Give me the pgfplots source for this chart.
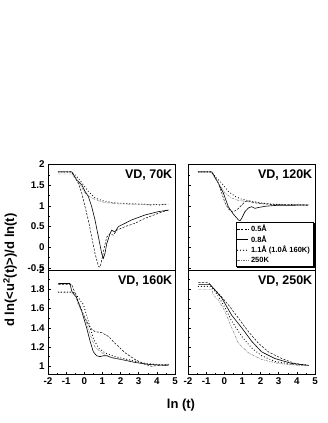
\documentclass[border=0pt]{standalone}
\usepackage{fontspec}
\setmainfont{Liberation Sans}
\usepackage{pgfplots}
\pgfplotsset{compat=1.18}

\pgfplotsset{
  panel/.style={
    scale only axis, width=127pt,
    xmin=-2, xmax=5, xtick={-2,...,5}, minor x tick num=1,
    tick align=inside, xtick pos=bottom, ytick pos=left,
    axis line style={line width=0.8pt},
    tick style={black, line width=0.5pt},
    major tick length=3pt, minor tick length=1.8pt,
    ticklabel style={font=\bfseries\fontsize{9.8}{10}\selectfont},
    /pgf/number format/assume math mode=true,
    legend image code/.code={\draw[##1] (0pt,0pt) -- (11pt,0pt);},
  },
  toprow/.style={panel, height=105.5pt, ymin=-0.55, ymax=2,
    ytick={-0.5,0,0.5,1,1.5,2}, minor y tick num=1, xtick=\empty},
  botrow/.style={panel, height=104.5pt, ymin=0.915, ymax=2,
    ytick={1,1.2,1.4,1.6,1.8,2}, minor y tick num=1},
  d05/.style={black, line width=0.5pt, dash pattern=on 2.2pt off 1.4pt},
  d08/.style={black, line width=0.6pt},
  d11/.style={black, line width=1.2pt, line cap=round, dash pattern=on 0pt off 3pt},
  d250/.style={black!55, line width=0.45pt, dash pattern=on 2.5pt off 1pt on 0.6pt off 1pt},
}
\newcommand{\paneltitle}[1]{\node[anchor=north east, inner sep=0pt,
  font=\bfseries\fontsize{12.5}{14}\selectfont] at (rel axis cs:0.98,0.95) {#1};}

\begin{document}
\begin{tikzpicture}
\useasboundingbox (0pt,0pt) rectangle (327pt,423pt);

% ---- 70K
\begin{axis}[toprow, at={(48pt,153pt)}, anchor=south west]
\addplot[d05] coordinates {(-1.43,1.82)(-0.69,1.82)(-0.33,1.55)(-0.14,1.31)(0.04,0.98)(0.22,0.66)(0.41,0.25)(0.59,-0.15)(0.78,-0.46)(0.87,-0.48)(0.96,-0.32)(1.11,0.01)(1.24,0.25)(1.42,0.33)(1.60,0.29)(1.79,0.41)(2.25,0.50)(2.80,0.58)(3.35,0.70)(4.08,0.82)(4.64,0.90)};
\addplot[d08] coordinates {(-1.43,1.82)(-0.69,1.82)(-0.42,1.63)(-0.14,1.51)(0.04,1.35)(0.22,1.23)(0.41,0.98)(0.59,0.66)(0.78,0.25)(0.96,-0.15)(1.05,-0.27)(1.14,-0.15)(1.24,0.09)(1.42,0.33)(1.51,0.41)(1.69,0.37)(1.88,0.50)(2.25,0.58)(2.61,0.66)(3.35,0.78)(4.08,0.86)(4.64,0.90)};
\addplot[d11] coordinates {(-1.43,1.82)(-0.69,1.82)(-0.33,1.67)(-0.05,1.51)(0.22,1.35)(0.59,1.19)(0.96,1.13)(1.51,1.08)(2.43,1.05)(3.35,1.04)(3.70,1.02)(3.90,1.04)(4.20,1.02)(4.40,1.04)(4.64,1.03)};
\addplot[d250] coordinates {(-1.43,1.77)(-0.69,1.77)(-0.33,1.59)(0.04,1.31)(0.41,1.19)(0.78,1.12)(1.14,1.08)(1.88,1.05)(2.80,1.04)(4.64,1.03)};
\paneltitle{VD, 70K}
\end{axis}

% ---- 120K
\begin{axis}[toprow, at={(188pt,153pt)}, anchor=south west, yticklabels={},
  legend style={name=lgd, at={(0.985,0.03)}, anchor=south east, draw=black, line width=0.5pt,
    font=\bfseries\fontsize{7.5}{8}\selectfont, inner sep=1pt, row sep=-1.5pt,
    fill=white},
  legend cell align=left]
\addplot[d05] coordinates {(-1.43,1.82)(-0.69,1.82)(-0.33,1.55)(-0.14,1.31)(0.04,1.07)(0.22,0.93)(0.45,0.85)(0.68,0.90)(0.96,1.02)(1.14,1.10)(1.33,1.12)(1.60,1.08)(2.06,1.05)(2.80,1.03)(4.64,1.02)};
\addlegendentry{0.5Å}
\addplot[d08] coordinates {(-1.43,1.82)(-0.69,1.82)(-0.33,1.55)(-0.05,1.31)(0.22,0.98)(0.50,0.80)(0.78,0.66)(0.87,0.64)(0.96,0.70)(1.14,0.86)(1.33,0.95)(1.51,0.98)(1.69,0.94)(1.88,0.96)(2.25,0.99)(2.80,1.01)(4.64,1.02)};
\addlegendentry{0.8Å}
\addplot[d11] coordinates {(-1.43,1.82)(-0.69,1.82)(-0.42,1.67)(-0.14,1.55)(0.22,1.35)(0.59,1.23)(0.96,1.16)(1.51,1.11)(2.06,1.07)(2.61,1.04)(3.50,1.03)(4.64,1.02)};
\addlegendentry{1.1Å (1.0Å 160K)}
\addplot[d250] coordinates {(-1.43,1.80)(-0.69,1.80)(-0.33,1.55)(0.04,1.31)(0.41,1.19)(0.78,1.13)(1.14,1.11)(1.88,1.07)(2.80,1.04)(4.64,1.03)};
\addlegendentry{250K}
\paneltitle{VD, 120K}
\end{axis}
% shadow edge of the legend box
\draw[line width=1.4pt] ([xshift=0.95pt,yshift=-1.5pt]lgd.north east) -- ([xshift=0.95pt,yshift=-0.95pt]lgd.south east) -- ([xshift=1.5pt,yshift=-0.95pt]lgd.south west);

% ---- 160K
\begin{axis}[botrow, at={(48pt,48.5pt)}, anchor=south west]
\addplot[d05] coordinates {(-1.43,1.85)(-0.69,1.85)(-0.33,1.67)(0.04,1.50)(0.32,1.40)(0.59,1.36)(0.96,1.35)(1.33,1.31)(1.69,1.24)(2.25,1.14)(2.80,1.07)(3.35,1.02)(3.72,1.00)(4.08,1.01)(4.45,1.02)(4.64,1.02)};
\addplot[d08] coordinates {(-1.43,1.86)(-0.79,1.86)(-0.69,1.78)(-0.42,1.71)(-0.14,1.57)(0.13,1.40)(0.32,1.26)(0.50,1.15)(0.68,1.11)(0.87,1.10)(1.05,1.11)(1.24,1.11)(1.51,1.09)(2.06,1.07)(2.80,1.04)(3.53,1.02)(4.45,1.01)(4.64,1.01)};
\addplot[d11] coordinates {(-1.43,1.77)(-0.69,1.77)(-0.51,1.76)(-0.05,1.64)(0.22,1.47)(0.50,1.29)(0.78,1.19)(1.14,1.14)(1.69,1.10)(2.43,1.07)(3.35,1.03)(4.45,1.01)(4.64,1.02)};
\addplot[d250] coordinates {(-1.43,1.77)(-0.79,1.77)(-0.51,1.74)(-0.33,1.64)(0.04,1.50)(0.32,1.33)(0.59,1.20)(0.96,1.14)(1.51,1.09)(2.43,1.06)(3.35,1.03)(4.45,1.01)(4.64,1.01)};
\paneltitle{VD, 160K}
\end{axis}

% ---- 250K
\begin{axis}[botrow, at={(188pt,48.5pt)}, anchor=south west, yticklabels={}]
\addplot[d05] coordinates {(-1.43,1.87)(-0.88,1.87)(-0.69,1.83)(-0.33,1.76)(0.22,1.64)(0.78,1.50)(1.33,1.36)(1.88,1.24)(2.43,1.15)(3.17,1.08)(3.90,1.03)(4.64,1.01)};
\addplot[d08] coordinates {(-1.43,1.85)(-0.79,1.85)(-0.60,1.81)(-0.14,1.71)(0.41,1.53)(0.96,1.40)(1.51,1.26)(2.06,1.15)(2.80,1.08)(3.72,1.03)(4.64,1.01)};
\addplot[d11] coordinates {(-1.43,1.83)(-0.79,1.83)(-0.51,1.78)(-0.05,1.64)(0.41,1.47)(0.96,1.31)(1.51,1.19)(2.06,1.11)(2.80,1.05)(3.72,1.02)(4.64,1.01)};
\addplot[d250] coordinates {(-1.43,1.80)(-0.69,1.80)(-0.60,1.74)(-0.33,1.69)(0.04,1.57)(0.41,1.40)(0.78,1.24)(1.33,1.14)(2.06,1.07)(2.98,1.03)(4.08,1.01)(4.64,1.01)};
\paneltitle{VD, 250K}
\end{axis}

\node[rotate=90, font=\bfseries\fontsize{13}{15}\selectfont] at (10pt,153pt)
  {d ln(<u\textsuperscript{2}(t)>)/d ln(t)};
\node[font=\bfseries\fontsize{13}{15}\selectfont] at (181pt,18pt) {ln (t)};
\end{tikzpicture}
\end{document}
